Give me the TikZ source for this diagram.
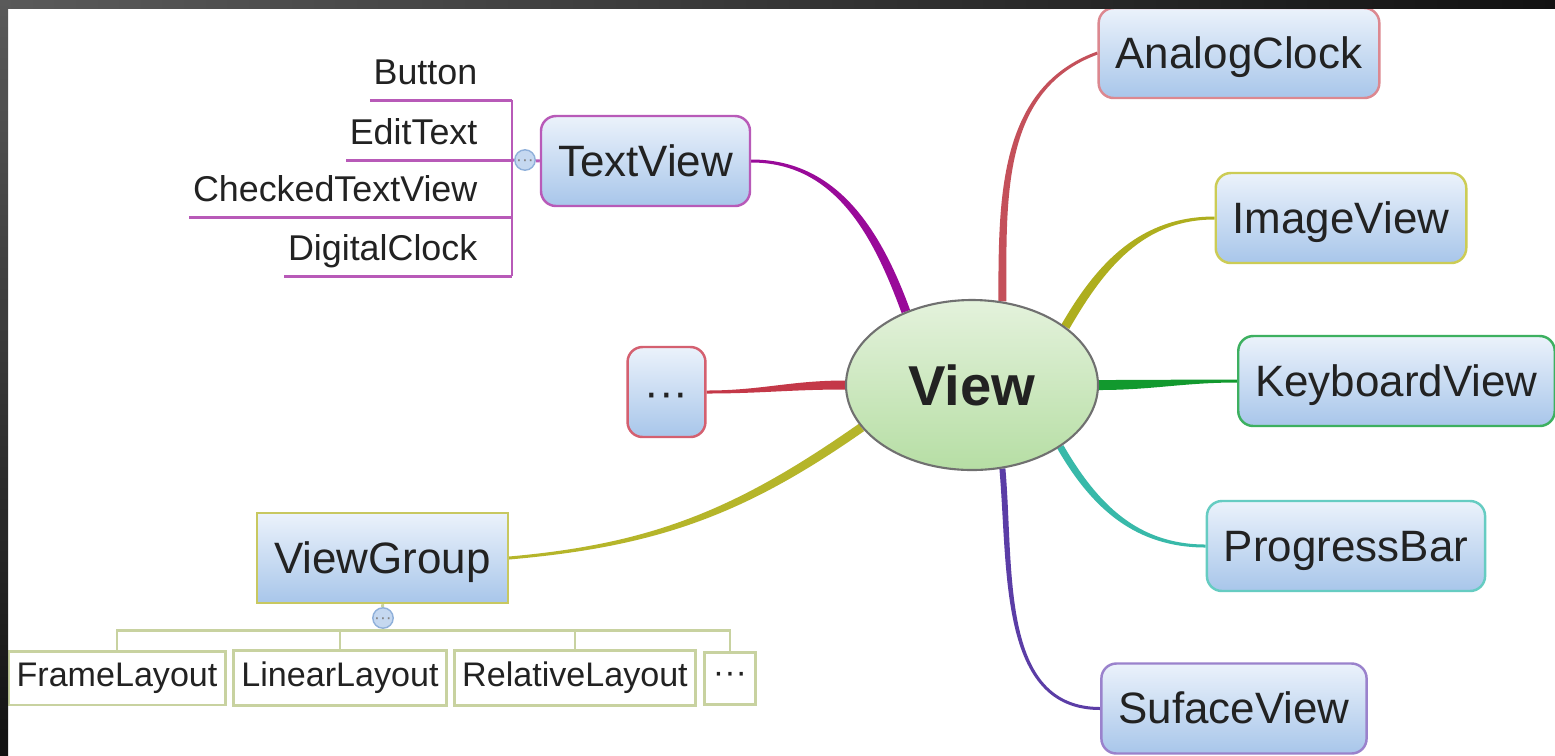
\documentclass[tikz,border=0pt]{standalone}
\usepackage{fontspec}
\setmainfont{Liberation Sans}
\usetikzlibrary{shapes.geometric,calc,backgrounds}
\definecolor{ink}{HTML}{222222}
\definecolor{boxtop}{HTML}{EBF2FB}
\definecolor{boxbot}{HTML}{A8C6EA}
\definecolor{viewtop}{HTML}{E4F2DC}
\definecolor{viewbot}{HTML}{B6DEA4}
\definecolor{viewb}{HTML}{707070}
\definecolor{tvc}{HTML}{990A99}\definecolor{tvb}{HTML}{B85AB8}
\definecolor{acc}{HTML}{C4505A}\definecolor{acb}{HTML}{DC8890}
\definecolor{ivc}{HTML}{AEAE1E}\definecolor{ivb}{HTML}{CCCC55}
\definecolor{kvc}{HTML}{12992E}\definecolor{kvb}{HTML}{3DB060}
\definecolor{pbc}{HTML}{38B9A9}\definecolor{pbb}{HTML}{66CCC2}
\definecolor{svc}{HTML}{5B3DA6}\definecolor{svb}{HTML}{9A82CC}
\definecolor{dtc}{HTML}{C43848}\definecolor{dtb}{HTML}{D46070}
\definecolor{vgc}{HTML}{B5B52A}\definecolor{vgb}{HTML}{C8C860}
\definecolor{layb}{HTML}{C8D2A0}
\definecolor{knobf}{HTML}{C5D8F0}
\definecolor{knobb}{HTML}{8FB0DA}
\definecolor{frmA}{HTML}{5A5A5A}
\definecolor{frmB}{HTML}{121212}
% tapered branch: colour, thin end, thick end, out, in, half width
\newcommand{\branch}[6]{%
  \fill[#1] ($(#2)+({#4+90}:0.015)$) to[out=#4,in=#5] ($(#3)+({#5-90}:#6)$)
    -- ($(#3)+({#5+90}:#6)$) to[out=#5,in=#4] ($(#2)+({#4-90}:0.015)$) -- cycle;}

\begin{document}
\begin{tikzpicture}[every node/.style={text=ink},
  box/.style={draw, rounded corners=0.15cm, line width=0.7pt, top color=boxtop,
    bottom color=boxbot, minimum height=0.9cm, inner xsep=0.17cm,
    font=\fontsize{12.5}{15}\selectfont, text height=9.2pt, text depth=0.4pt},
  sub/.style={anchor=south east, inner xsep=0.03cm, inner ysep=0.07cm,
    text height=0.26cm, text depth=0.08cm, font=\fontsize{10.2}{12}\selectfont},
  lay/.style={draw=layb, line width=0.85pt, fill=white, minimum height=0.52cm,
    inner xsep=0.08cm, font=\fontsize{9.7}{12}\selectfont},
  knob/.style={circle, draw=knobb, fill=knobf, minimum size=0.18cm, inner sep=0pt,
    text=gray, font=\fontsize{5}{5}\selectfont, text height=3pt, text depth=0pt},
  twig/.style={line width=0.85pt}]
\useasboundingbox (0,0) rectangle (15.55,-7.55);
% --- centre ---
\node[ellipse, draw=viewb, line width=0.6pt, top color=viewtop, bottom color=viewbot,
  minimum width=2.52cm, minimum height=1.70cm, inner sep=0pt,
  font=\fontsize{16}{19}\selectfont\bfseries, text height=11.6pt, text depth=0.2pt]
  (view) at (9.72,-3.85) {View};
% --- right side ---
\node[box, draw=acb] (ac) at (12.39,-0.53)  {AnalogClock};
\node[box, draw=ivb] (iv) at (13.41,-2.18)  {ImageView};
\node[box, draw=kvb] (kv) at (13.965,-3.81) {KeyboardView};
\node[box, draw=pbb] (pb) at (13.46,-5.46)  {ProgressBar};
\node[box, draw=svb] (sv) at (12.34,-7.085) {SufaceView};
% --- left side ---
\node[box, draw=tvb] (tv)   at (6.455,-1.61) {TextView};
\node[box, draw=dtb] (dots) at (6.665,-3.92) {···};
\node[box, draw=vgb, sharp corners] (vg) at (3.825,-5.58) {ViewGroup};
% --- TextView children ---
\coordinate (tvj) at (5.12,-1.60);
\node[knob] (tvk) at (5.25,-1.60) {···};
\node[sub] (btn) at (4.81,-1.00) {Button};
\node[sub] (et)  at (4.81,-1.60) {EditText};
\node[sub] (ctv) at (4.81,-2.17) {CheckedTextView};
\node[sub] (dc)  at (4.81,-2.76) {DigitalClock};
\draw[twig, tvb] (tv.west) -- (tvk) -- (tvj);
\foreach \n in {btn,et,ctv,dc}
  \draw[twig, tvb] (\n.south west) -- (\n.south west -| tvj);
\draw[twig, tvb] (btn.south west -| tvj) -- (dc.south west -| tvj);
% --- ViewGroup children ---
\node[knob] (vgk) at (3.83,-6.18) {···};
\node[lay] (fl) at (1.17,-6.78) {FrameLayout};
\node[lay] (ll) at (3.40,-6.78) {LinearLayout};
\node[lay] (rl) at (5.75,-6.78) {RelativeLayout};
\node[lay] (lm) at (7.30,-6.78) {···};
\coordinate (bus) at (3.83,-6.30);
\draw[twig, layb] (vg.south) -- (vgk) -- (bus);
\draw[twig, layb] (fl.north) |- (bus) -| (lm.north);
\draw[twig, layb] (ll.north) -- (ll.north |- bus);
\draw[twig, layb] (rl.north) -- (rl.north |- bus);
% --- branches ---
\begin{scope}[on background layer]
  \fill[white] (0,0) rectangle (15.55,-7.55);
  \branch{tvc}{tv.east}{view.132}{0}{110}{0.045}
  \branch{acc}{ac.west}{view.70}{200}{90}{0.04}
  \branch{ivc}{iv.west}{view.32}{180}{60}{0.045}
  \branch{kvc}{kv.west}{view.0}{180}{0}{0.05}
  \branch{pbc}{pb.west}{view.325}{180}{300}{0.035}
  \branch{svc}{sv.west}{view.290}{180}{275}{0.03}
  \branch{dtc}{dots.east}{view.180}{0}{180}{0.045}
  \branch{vgc}{vg.east}{view.201}{5}{215}{0.045}
\end{scope}
% --- frame ---
\shade[left color=frmA, right color=frmB] (0,0) rectangle (15.55,-0.08);
\shade[top color=frmA, bottom color=frmB] (0,0) rectangle (0.08,-7.55);
\end{tikzpicture}
\end{document}
